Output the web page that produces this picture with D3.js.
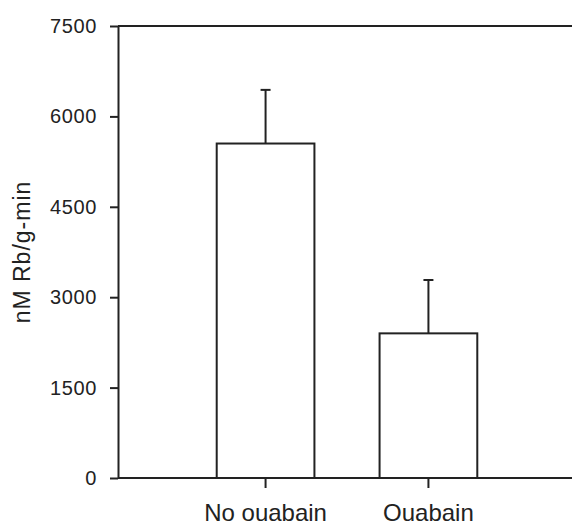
<!DOCTYPE html>
<html>
<head>
<meta charset="utf-8">
<script src="https://cdn.jsdelivr.net/npm/d3@7"></script>
<style>
  body { margin: 0; background: #fff; }
  svg { display: block; }
  text { font-family: "Liberation Sans", Arial, sans-serif; fill: #222; }
</style>
</head>
<body>
<svg width="572" height="526"></svg>
<script>
// data
var categories = ["No ouabain", "Ouabain"];
var means = [5550, 2400];
var errors = [890, 885];
var yTicks = [0, 1500, 3000, 4500, 6000, 7500];

var svg = d3.select("svg"),
  width = +svg.attr("width"),
  height = +svg.attr("height");

var plotLeft = 118, plotTop = 26, plotBottom = 478;
var ink = "#222";

var x = d3
  .scaleBand()
  .domain(categories)
  .range([plotLeft + 1, 575])
  .paddingInner(0.4)
  .paddingOuter(0.6);

var y = d3.scaleLinear().domain([0, 7500]).range([plotBottom, plotTop]);

// frame lines (top and bottom run off the right edge)
svg
  .append("line")
  .attr("x1", plotLeft).attr("x2", width)
  .attr("y1", y(7500)).attr("y2", y(7500))
  .attr("stroke", ink).attr("stroke-width", 2);

svg
  .append("line")
  .attr("x1", plotLeft).attr("x2", width)
  .attr("y1", y(0)).attr("y2", y(0))
  .attr("stroke", ink).attr("stroke-width", 2);

// bars
svg
  .append("g")
  .selectAll("rect")
  .data(categories)
  .enter()
  .append("rect")
  .attr("x", function(d) { return x(d); })
  .attr("y", function(d, i) { return y(means[i]); })
  .attr("width", x.bandwidth())
  .attr("height", function(d, i) { return y(0) - y(means[i]); })
  .attr("fill", "#fff")
  .attr("stroke", ink)
  .attr("stroke-width", 2);

// error bars (upper only)
var err = svg.append("g").attr("stroke", ink).attr("stroke-width", 2);
categories.forEach(function(c, i) {
  var cx = x(c) + x.bandwidth() / 2;
  err.append("line")
    .attr("x1", cx).attr("x2", cx)
    .attr("y1", y(means[i])).attr("y2", y(means[i] + errors[i]));
  err.append("line")
    .attr("x1", cx - 5).attr("x2", cx + 5)
    .attr("y1", y(means[i] + errors[i])).attr("y2", y(means[i] + errors[i]));
});

// y axis
var yAxis = svg
  .append("g")
  .attr("transform", "translate(" + plotLeft + ",0)")
  .call(
    d3.axisLeft(y)
      .tickValues(yTicks)
      .tickSize(8)
      .tickSizeOuter(0)
      .tickPadding(13)
      .tickFormat(d3.format("d"))
  );
yAxis.select(".domain").attr("stroke", ink).attr("stroke-width", 2);
yAxis.selectAll(".tick line").attr("stroke", ink).attr("stroke-width", 2);
yAxis.selectAll("text")
  .style("font-size", "20px")
  .style("letter-spacing", "0.6px")
  .attr("fill", ink);

// x axis
var xAxis = svg
  .append("g")
  .attr("transform", "translate(0," + plotBottom + ")")
  .call(d3.axisBottom(x).tickSize(10).tickSizeOuter(0).tickPadding(16));
xAxis.select(".domain").remove();
xAxis.selectAll(".tick line").attr("stroke", ink).attr("stroke-width", 2);
xAxis.selectAll("text")
  .style("font-size", "24px")
  .attr("fill", ink);

// y label
svg
  .append("text")
  .attr("transform", "translate(30," + (plotTop + plotBottom) / 2 + ") rotate(-90)")
  .attr("text-anchor", "middle")
  .style("font-size", "23px")
  .style("letter-spacing", "1px")
  .text("nM Rb/g-min");
</script>
</body>
</html>
